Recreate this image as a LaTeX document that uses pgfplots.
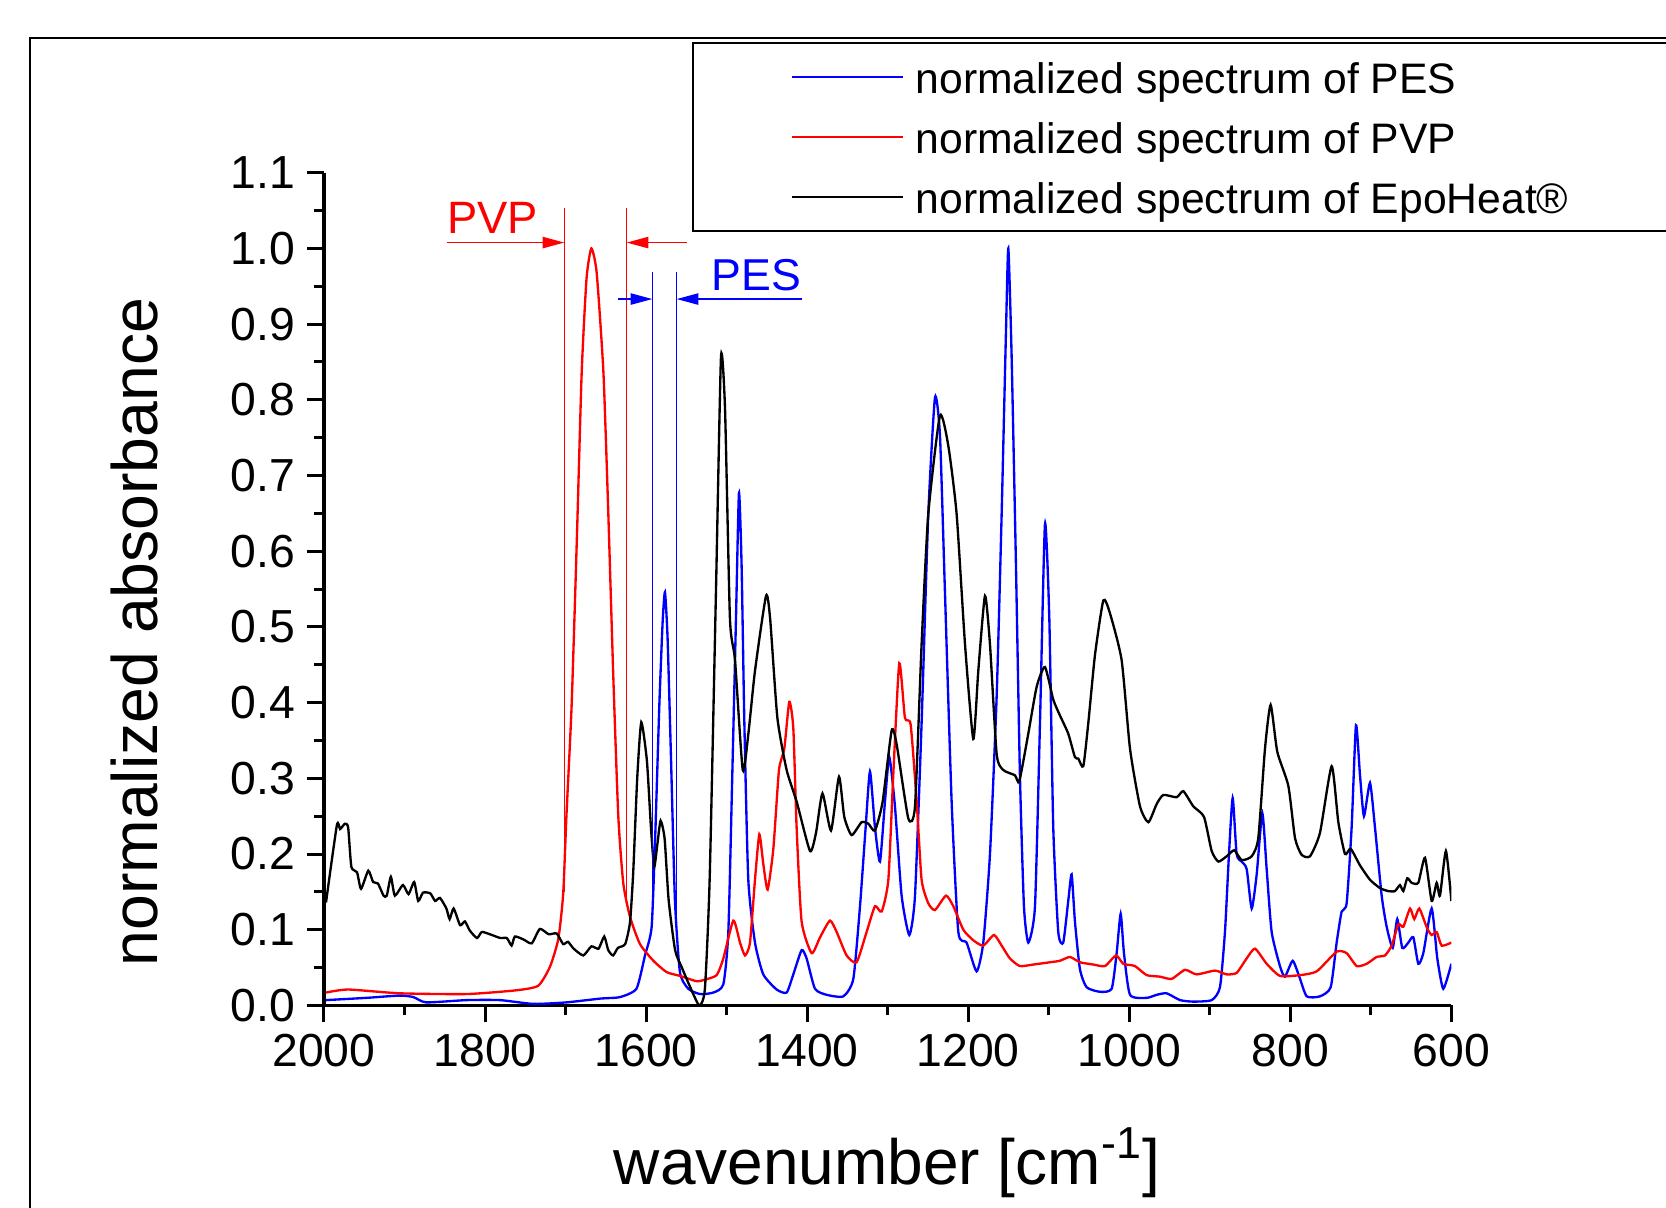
\documentclass[border=0pt]{standalone}
\usepackage{pgfplots}
\pgfplotsset{compat=1.18}
\usepackage{fontspec}
\setmainfont{Liberation Sans}
\usetikzlibrary{arrows.meta}

\begin{document}
\begin{tikzpicture}
% outer frame (cut by the picture edges)
\draw[line width=0.6pt] (8.85pt,-10pt) -- (8.85pt,350.61pt) -- (510pt,350.61pt);

\begin{axis}[
  at={(266.31pt,185.385pt)}, anchor=center,
  width=338.22pt, height=249.81pt, scale only axis,
  xmin=600, xmax=2000, ymin=0, ymax=1.1, x dir=reverse,
  clip mode=individual,
  axis line style={draw=none},
  xtick pos=bottom, ytick pos=left,
  tick align=outside,
  major tick length=5.1pt, minor tick length=3pt,
  every tick/.style={black, line width=0.9pt},
  xtick={600,800,1000,1200,1400,1600,1800,2000},
  minor xtick={700,900,1100,1300,1500,1700,1900},
  ytick={0,0.1,0.2,0.3,0.4,0.5,0.6,0.7,0.8,0.9,1.0,1.1},
  minor ytick={0.05,0.15,0.25,0.35,0.45,0.55,0.65,0.75,0.85,0.95,1.05},
  tick label style={font=\fontsize{13.9}{16}\selectfont},
  /pgf/number format/assume math mode=true,
  xticklabel style={/pgf/number format/1000 sep={}},
  yticklabel style={/pgf/number format/.cd, fixed, fixed zerofill, precision=1},
  every axis plot/.append style={line width=0.7pt, smooth, tension=0.35},
]
\draw[line width=1pt] (axis description cs:0,1) -- (axis description cs:0,0) -- (axis description cs:1,0);

% PES
\addplot[blue] coordinates {
(1997.5,0.007)(1947,0.010)(1906,0.013)(1889,0.011)(1873,0.004)(1823,0.007)(1781.5,0.007)
(1740,0.002)(1699,0.004)(1657,0.009)(1632.5,0.011)(1612,0.022)(1601.4,0.066)(1593.2,0.103)
(1589,0.213)(1583.6,0.396)(1579.5,0.506)(1576.6,0.546)(1573.3,0.484)(1569,0.323)(1564.2,0.139)
(1558,0.044)(1547.6,0.022)(1533,0.015)(1516.5,0.017)(1504.1,0.028)(1497.9,0.097)(1493,0.304)
(1488.4,0.511)(1484.7,0.677)(1481.4,0.580)(1478,0.373)(1473.1,0.166)(1464.8,0.083)(1454.5,0.041)
(1437.9,0.021)(1425.5,0.017)(1417.2,0.041)(1406.9,0.073)(1400.7,0.062)(1390.3,0.022)(1375.8,0.014)
(1355.1,0.012)(1342.7,0.035)(1334.4,0.131)(1327.4,0.235)(1322,0.309)(1315.8,0.235)(1309.6,0.190)
(1303.4,0.269)(1298,0.328)(1291,0.263)(1282.7,0.145)(1273.2,0.093)(1266.1,0.145)(1257.9,0.373)
(1249.6,0.649)(1241.3,0.803)(1235.1,0.753)(1228.9,0.546)(1220.6,0.269)(1212.3,0.097)(1202,0.083)
(1189.6,0.045)(1181.3,0.083)(1173,0.200)(1164.7,0.408)(1158.5,0.649)(1153.1,0.891)(1150.2,1.0)
(1146.1,0.857)(1140.7,0.580)(1135.8,0.304)(1130.8,0.131)(1125.4,0.083)(1117.1,0.131)(1110.9,0.373)
(1104.7,0.636)(1099.3,0.511)(1094.4,0.235)(1088.2,0.097)(1082,0.083)(1075.8,0.138)(1071.6,0.173)
(1067.5,0.111)(1061.3,0.048)(1053,0.024)(1036.4,0.018)(1021.9,0.022)(1015.7,0.069)(1010.7,0.121)
(1006.6,0.069)(999.1,0.014)(978.4,0.010)(966,0.014)(953.6,0.016)(937,0.007)(920.5,0.005)
(897.7,0.007)(887.4,0.024)(881.2,0.097)(876.2,0.200)(871.6,0.274)(866.7,0.200)(860.5,0.190)
(854.2,0.180)(848,0.128)(841.8,0.173)(834.8,0.254)(829.4,0.180)(823.2,0.097)(812.9,0.052)
(806.7,0.038)(797.1,0.059)(788.9,0.038)(779.7,0.012)(763.2,0.012)(749.9,0.024)(742.5,0.083)
(736.3,0.124)(730.1,0.135)(723.9,0.235)(718.5,0.370)(713.5,0.304)(708.6,0.250)(701.1,0.294)
(694.9,0.235)(686.6,0.145)(680.4,0.104)(672.9,0.076)(667.2,0.114)(661,0.076)(653.5,0.083)
(647.3,0.090)(641.1,0.055)(634.9,0.069)(624.5,0.128)(617.5,0.062)(610.1,0.022)(600,0.055)
};

% PVP
\addplot[red] coordinates {
(1997.5,0.017)(1970,0.021)(1906,0.016)(1823,0.015)(1761,0.020)(1734,0.026)(1719.4,0.051)
(1709,0.088)(1703,0.147)(1699,0.249)(1692.5,0.396)(1686,0.616)(1680,0.836)(1674,0.960)
(1668,1.0)(1661.4,0.968)(1653,0.836)(1647,0.652)(1640.7,0.433)(1634.5,0.249)(1628.3,0.161)
(1620,0.117)(1607.6,0.081)(1591,0.059)(1574.5,0.044)(1557.9,0.039)(1537.3,0.032)(1527,0.034)
(1512.4,0.040)(1504.1,0.062)(1491.7,0.112)(1483.4,0.083)(1477.2,0.066)(1471,0.083)(1464.8,0.166)
(1459.4,0.226)(1454.5,0.187)(1449.1,0.153)(1442,0.207)(1435,0.311)(1428.4,0.339)(1422.2,0.401)
(1417.2,0.366)(1413.1,0.235)(1406.9,0.111)(1394.4,0.069)(1384,0.090)(1371.7,0.112)(1363.4,0.097)
(1351,0.066)(1338.6,0.057)(1326.2,0.097)(1315.8,0.131)(1307.5,0.124)(1299.2,0.166)(1293.1,0.304)
(1285.6,0.452)(1278.6,0.380)(1271.5,0.371)(1264,0.269)(1257.9,0.166)(1249.6,0.135)(1241.3,0.126)
(1227.6,0.145)(1218.5,0.131)(1206.1,0.100)(1193.7,0.086)(1181.3,0.079)(1168,0.093)(1158.5,0.079)
(1148.2,0.062)(1135.8,0.052)(1119.2,0.054)(1098.5,0.057)(1086.1,0.059)(1073.7,0.064)(1061.3,0.057)
(1044.6,0.054)(1030.2,0.052)(1016.5,0.066)(1007.4,0.055)(993,0.052)(978.4,0.040)(961.9,0.038)
(947.4,0.035)(930.8,0.047)(916.3,0.041)(893.6,0.046)(879.1,0.041)(866.7,0.043)(854.3,0.062)
(843.9,0.075)(829.4,0.055)(812.9,0.039)(788,0.040)(767.3,0.045)(742.5,0.071)(730.1,0.069)
(717.6,0.052)(705.2,0.055)(692.8,0.064)(682.5,0.066)(674.2,0.079)(665.9,0.107)(659.7,0.104)
(651.4,0.128)(646.1,0.114)(639.9,0.128)(630.2,0.102)(624.5,0.093)(618.3,0.097)(612.1,0.079)
(600,0.083)
};

% EpoHeat
\addplot[black] coordinates {
(1997.5,0.136)(1984,0.238)(1980,0.233)(1974,0.240)(1970,0.235)(1966,0.183)(1959,0.176)
(1954,0.154)(1945,0.178)(1939,0.163)(1933,0.161)(1926,0.145)(1922,0.145)(1917,0.170)
(1912,0.145)(1902,0.159)(1895,0.147)(1888,0.163)(1883,0.138)(1877,0.149)(1868,0.148)
(1862,0.138)(1856,0.142)(1848,0.128)(1844,0.114)(1839,0.128)(1831,0.106)(1825,0.111)
(1819,0.099)(1810,0.089)(1804,0.097)(1794,0.094)(1781,0.089)(1773,0.089)(1767,0.079)
(1763,0.091)(1752,0.087)(1742,0.082)(1732,0.101)(1721,0.094)(1711,0.095)(1703,0.081)
(1697,0.084)(1690,0.075)(1678,0.066)(1668,0.078)(1659,0.075)(1652,0.091)(1647,0.073)
(1641,0.066)(1635,0.076)(1626,0.081)(1620,0.110)(1616,0.176)(1611,0.301)(1606,0.374)
(1599,0.323)(1594,0.235)(1590,0.183)(1586,0.213)(1582,0.244)(1577,0.220)(1572,0.139)
(1564,0.073)(1556,0.051)(1546,0.026)(1534,0.0)(1527,0.022)(1521,0.17)(1513,0.56)
(1507,0.857)(1502,0.788)(1495.9,0.511)(1489.6,0.456)(1480,0.311)(1473,0.359)(1464.8,0.442)
(1451.1,0.541)(1446,0.511)(1437,0.380)(1425.5,0.311)(1413,0.269)(1396.5,0.204)(1389,0.228)
(1381,0.280)(1370.4,0.231)(1360.5,0.302)(1353.9,0.249)(1344.8,0.225)(1332.4,0.242)(1324,0.240)
(1315.8,0.231)(1306.3,0.269)(1295.1,0.363)(1288.9,0.345)(1274.4,0.247)(1266.1,0.263)(1257.9,0.477)
(1249.6,0.649)(1235.1,0.779)(1224.7,0.739)(1214.4,0.649)(1204,0.477)(1193.7,0.352)(1187.5,0.442)
(1179.2,0.541)(1173,0.477)(1164.7,0.332)(1156.5,0.311)(1142,0.304)(1136.6,0.296)(1125.4,0.359)
(1115,0.421)(1104.7,0.447)(1094.4,0.404)(1086.1,0.383)(1075.8,0.359)(1067.5,0.328)(1063.3,0.326)
(1057.1,0.316)(1050.9,0.373)(1042.6,0.463)(1032.2,0.535)(1024,0.518)(1009.5,0.456)(999.1,0.339)
(986.7,0.263)(976.3,0.242)(966,0.266)(957.7,0.278)(941.2,0.275)(932.9,0.283)(920.5,0.263)
(907.2,0.249)(897.7,0.204)(889.4,0.190)(879.1,0.197)(869.6,0.205)(860.5,0.192)(848,0.197)
(839.8,0.221)(831.5,0.339)(824.5,0.397)(816.2,0.335)(802.5,0.290)(794.2,0.221)(786,0.199)
(775.6,0.197)(763.2,0.228)(748.7,0.316)(740.4,0.242)(732.1,0.200)(725.1,0.207)(713.5,0.185)
(701.1,0.166)(688.7,0.155)(678.3,0.151)(670.1,0.151)(663.9,0.159)(659.7,0.151)(654.8,0.168)
(649.4,0.162)(641.1,0.162)(632.8,0.195)(624.5,0.138)(618.3,0.162)(614.2,0.145)(606.8,0.204)
(600,0.138)
};

% annotations
\draw[red, line width=0.4pt] (axis cs:1701.6,0.15) -- (axis cs:1701.6,1.053);
\draw[red, line width=0.4pt] (axis cs:1624.1,0.14) -- (axis cs:1624.1,1.053);
\draw[red, line width=0.4pt, -{Triangle[length=6.5pt,width=3.4pt]}] (axis cs:1847.6,1.0077) -- (axis cs:1701.6,1.0077);
\draw[red, line width=0.4pt, -{Triangle[length=6.5pt,width=3.4pt]}] (axis cs:1549.6,1.0077) -- (axis cs:1624.1,1.0077);
\node[red, anchor=base, inner sep=0pt, font=\fontsize{13.6}{16}\selectfont] at (axis cs:1790.8,1.020) {PVP};

\draw[blue, line width=0.4pt] (axis cs:1592.3,0.12) -- (axis cs:1592.3,0.9692);
\draw[blue, line width=0.4pt] (axis cs:1562.0,0.10) -- (axis cs:1562.0,0.9692);
\draw[blue, line width=0.4pt, -{Triangle[length=6.5pt,width=3.4pt]}] (axis cs:1634.5,0.9331) -- (axis cs:1592.3,0.9331);
\draw[blue, line width=0.4pt, -{Triangle[length=6.5pt,width=3.4pt]}] (axis cs:1406.8,0.9331) -- (axis cs:1562.0,0.9331);
\node[blue, anchor=base, inner sep=0pt, font=\fontsize{13.4}{16}\selectfont] at (axis cs:1463.2,0.945) {PES};
\end{axis}

% axis titles
\node[rotate=90, inner sep=0pt, font=\fontsize{19.3}{22}\selectfont] at (40.3pt,172.5pt) {normalized absorbance};
\node[anchor=base, inner sep=0pt, font=\fontsize{19.2}{22}\selectfont] at (266.16pt,6.9pt) {wavenumber [cm\textsuperscript{-1}]};

% legend box
\draw[line width=0.6pt, fill=white] (207.81pt,292.8pt) -- (207.81pt,349.29pt) -- (510pt,349.29pt) -- (510pt,292.8pt) -- cycle;
\draw[blue, line width=0.6pt] (237.48pt,339.09pt) -- (270.8pt,339.09pt);
\draw[red, line width=0.6pt] (237.48pt,320.91pt) -- (270.8pt,320.91pt);
\draw[black, line width=0.6pt] (237.48pt,303.09pt) -- (270.8pt,303.09pt);
\node[anchor=base west, inner sep=0pt, font=\fontsize{12.8}{15}\selectfont] at (274.5pt,334.11pt) {normalized spectrum of PES};
\node[anchor=base west, inner sep=0pt, font=\fontsize{12.8}{15}\selectfont] at (274.5pt,316.11pt) {normalized spectrum of PVP};
\node[anchor=base west, inner sep=0pt, font=\fontsize{12.8}{15}\selectfont] at (274.5pt,298.11pt) {normalized spectrum of EpoHeat®};

\pgfresetboundingbox
\useasboundingbox (0pt,0pt) rectangle (499.8pt,362.1pt);
\end{tikzpicture}
\end{document}
